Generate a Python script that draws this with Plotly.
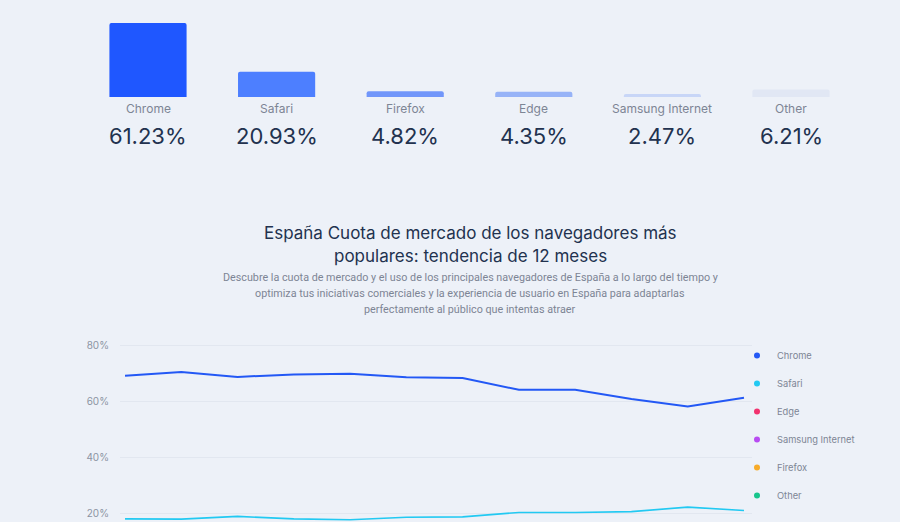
import plotly.graph_objects as go

# top summary: current share per browser
browsers = ["Chrome", "Safari", "Firefox", "Edge", "Samsung Internet", "Other"]
share_now = [61.23, 20.93, 4.82, 4.35, 2.47, 6.21]
bar_colors = ["#1f57ff", "#4d7fff", "#7196fa", "#97b3f7", "#c8d6f7", "#e1e7f4"]

# 12 month trend
months = ["jun 2023", "jul 2023", "ago 2023", "sep 2023", "oct 2023", "nov 2023",
          "dic 2023", "ene 2024", "feb 2024", "mar 2024", "abr 2024", "may 2024"]
chrome = [69.0, 70.4, 68.6, 69.5, 69.7, 68.5, 68.2, 64.0, 64.0, 60.7, 58.0, 61.2]
safari = [17.9, 17.8, 18.8, 17.9, 17.6, 18.5, 18.6, 20.2, 20.2, 20.5, 22.1, 20.9]
# only the latest month of these is readable (from the summary above)
edge = [4.35]
samsung = [2.47]
firefox = [4.82]
other = [6.21]

y_ticks = [20, 40, 60, 80]

line_colors = {
    "Chrome": "#2358f5",
    "Safari": "#22c9f2",
    "Edge": "#f2336f",
    "Samsung Internet": "#b84cf2",
    "Firefox": "#f7ab2a",
    "Other": "#17c58c",
}

title_lines = ["España Cuota de mercado de los navegadores más",
               "populares: tendencia de 12 meses"]
subtitle_lines = ["Descubre la cuota de mercado y el uso de los principales navegadores de España a lo largo del tiempo y",
                  "optimiza tus iniciativas comerciales y la experiencia de usuario en España para adaptarlas",
                  "perfectamente al público que intentas atraer"]

W, H = 900, 522
BG = "#edf1f8"
NAVY = "#22324f"
GREY = "#7d8595"


def px(x):
    return x / W


def py(y):
    return 1 - y / H


fig = go.Figure()

# bars
fig.add_trace(go.Bar(
    x=list(range(len(browsers))), y=share_now,
    marker=dict(color=bar_colors, cornerradius=2, line_width=0),
    width=0.6, xaxis="x2", yaxis="y2", showlegend=False, hoverinfo="skip",
))

for i, (b, v) in enumerate(zip(browsers, share_now)):
    fig.add_annotation(x=i, y=py(109), xref="x2", yref="paper", text=b,
                       showarrow=False, yanchor="middle",
                       font=dict(family="Inter, sans-serif", size=12, color=GREY))
    fig.add_annotation(x=i, y=py(136), xref="x2", yref="paper", text=f"{v:.2f}%",
                       showarrow=False, yanchor="middle",
                       font=dict(family="Inter, sans-serif", size=22, color=NAVY))

# lines
series = [("Chrome", chrome, months), ("Safari", safari, months),
          ("Edge", edge, months[-1:]), ("Samsung Internet", samsung, months[-1:]),
          ("Firefox", firefox, months[-1:]), ("Other", other, months[-1:])]
for name, ys, xs in series:
    fig.add_trace(go.Scatter(
        x=xs, y=ys, mode="lines", name=name, showlegend=False,
        line=dict(color=line_colors[name], width=2 if name == "Chrome" else 1.6),
        hovertemplate="%{y:.2f}%<extra>" + name + "</extra>",
    ))
for name, _, _ in series:
    fig.add_trace(go.Scatter(
        x=[None], y=[None], mode="markers", name=name, legendgroup=name,
        marker=dict(color=line_colors[name], size=6),
    ))

for k, t in enumerate(title_lines):
    fig.add_annotation(x=px(470), y=py(233 + 23 * k), xref="paper", yref="paper",
                       text=t, showarrow=False, yanchor="middle",
                       font=dict(family="Inter, sans-serif", size=17, color=NAVY))
for k, t in enumerate(subtitle_lines):
    fig.add_annotation(x=px(470), y=py(277 + 16 * k), xref="paper", yref="paper",
                       text=t, showarrow=False, yanchor="middle",
                       font=dict(family="Roboto, sans-serif", size=10.75, color=GREY))

# line chart axis: 80% at y=345, 20% at y=513 -> 2.8 px per point
ppp = (513 - 345) / 60
y_top_px = 335
fig.update_layout(
    width=W, height=H,
    margin=dict(l=0, r=0, t=0, b=0),
    paper_bgcolor=BG, plot_bgcolor=BG,
    xaxis=dict(domain=[px(120), px(752)], type="category",
               range=[-(125 - 120) / 56.2, 11 + (752 - 744) / 56.2],
               showticklabels=False, showgrid=False, zeroline=False, showline=False),
    yaxis=dict(domain=[0, py(y_top_px)],
               range=[80 - (H - 345) / ppp, 80 + (345 - y_top_px) / ppp],
               tickmode="array", tickvals=y_ticks, ticktext=[f"{v}%" for v in y_ticks],
               tickfont=dict(family="Inter, sans-serif", size=10, color="#8c94a3"),
               gridcolor="#e2e7f0", gridwidth=1, zeroline=False, showline=False,
               ticklabelstandoff=10),
    xaxis2=dict(domain=[px(148 - 64.3), px(791 + 64.3)], range=[-0.5, 5.5],
                anchor="y2", visible=False),
    yaxis2=dict(domain=[py(97), py(23)], range=[0, max(share_now)],
                anchor="x2", visible=False),
    legend=dict(x=px(737), y=py(341), xanchor="left", yanchor="top",
                bgcolor="rgba(0,0,0,0)", tracegroupgap=9,
                font=dict(family="Inter, sans-serif", size=9.3, color=GREY)),
    hovermode="x",
)

fig.write_html("out.html", config={"displayModeBar": False},
               post_script="document.body.style.margin='0';"
                           "document.body.style.background='" + BG + "';")
